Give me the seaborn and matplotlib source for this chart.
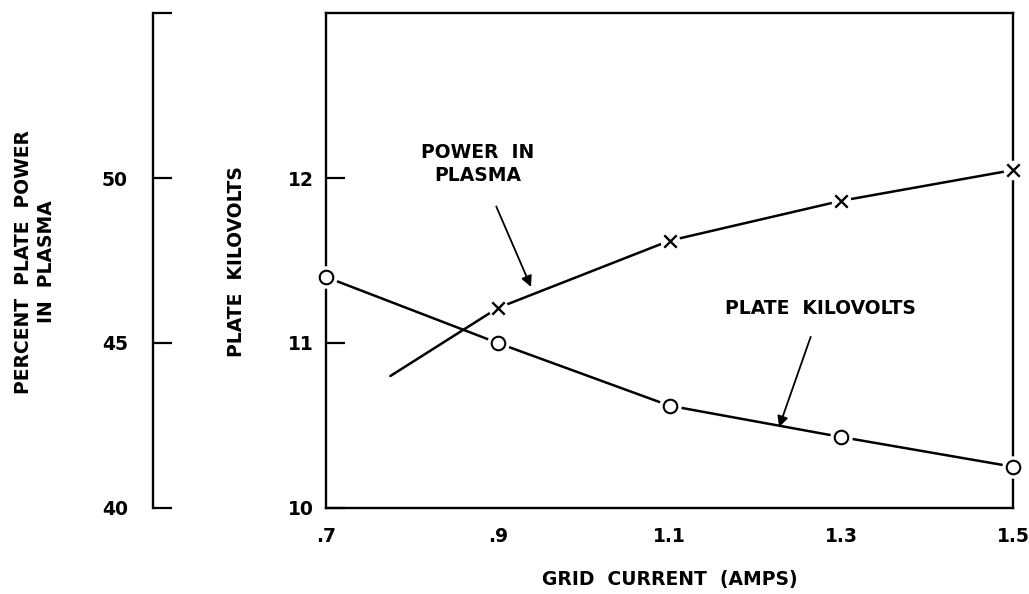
import matplotlib
matplotlib.use("Agg")
import matplotlib.pyplot as plt
import seaborn as sns
import pandas as pd

# ---- data ----
grid_current = [0.7, 0.9, 1.1, 1.3, 1.5]
plate_kv = [11.40, 11.00, 10.62, 10.43, 10.25]
power_current = [0.775, 0.9, 1.1, 1.3, 1.5]
power_pct = [44.0, 46.06, 48.10, 49.31, 50.24]
power_marked = [False, True, True, True, True]

x_ticks = [0.7, 0.9, 1.1, 1.3, 1.5]
x_tick_labels = [".7", ".9", "1.1", "1.3", "1.5"]
kv_ticks = [10, 11, 12]
pct_ticks = [40, 45, 50, 55]
pct_tick_labels = ["40", "45", "50", ""]

sns.set_style("white")
plt.rcParams["font.family"] = ["DejaVu Sans"]
plt.rcParams["font.weight"] = "bold"
plt.rcParams["text.color"] = "black"
plt.rcParams["axes.labelcolor"] = "black"
plt.rcParams["xtick.color"] = "black"
plt.rcParams["ytick.color"] = "black"

FS = 13.5

kv_df = pd.DataFrame({"current": grid_current, "kv": plate_kv})
pw_df = pd.DataFrame({"current": power_current, "pct": power_pct, "marked": power_marked})
pw_marked = pw_df[pw_df["marked"]]

fig = plt.figure(figsize=(10.29, 5.94), dpi=100)
ax = fig.add_axes([0.3168, 0.1448, 0.6677, 0.8333])
axp = ax.twinx()

LW = 1.8
# plate kilovolts
sns.lineplot(data=kv_df, x="current", y="kv", ax=ax, color="black", linewidth=LW, zorder=2)
sns.scatterplot(data=kv_df, x="current", y="kv", ax=ax, color="white", s=260, marker="o",
                linewidth=0, zorder=3, clip_on=False)
sns.scatterplot(data=kv_df, x="current", y="kv", ax=ax, facecolor="white", edgecolor="black",
                s=95, marker="o", linewidth=1.5, zorder=4, clip_on=False)

# power in plasma
sns.lineplot(data=pw_df, x="current", y="pct", ax=axp, color="black", linewidth=LW, zorder=2)
sns.scatterplot(data=pw_marked, x="current", y="pct", ax=axp, color="white", s=200, marker="o",
                linewidth=0, zorder=3, clip_on=False)
sns.scatterplot(data=pw_marked, x="current", y="pct", ax=axp, color="black", s=80, marker="x",
                linewidth=1.7, zorder=4, clip_on=False)

# main axes formatting
ax.set_xlim(0.7, 1.5)
ax.set_ylim(10, 13)
ax.set_xticks(x_ticks)
ax.set_xticklabels(x_tick_labels)
ax.set_yticks(kv_ticks)
ax.set_yticklabels([str(t) for t in kv_ticks])
ax.tick_params(axis="both", direction="in", length=14, width=1.6, labelsize=FS, colors="black")
ax.tick_params(axis="y", pad=9)
ax.tick_params(axis="x", pad=14)
for lab in ax.get_xticklabels() + ax.get_yticklabels():
    lab.set_fontweight("bold")
for s in ["left", "bottom", "right", "top"]:
    ax.spines[s].set_visible(True)
    ax.spines[s].set_linewidth(1.7)
    ax.spines[s].set_color("black")
ax.set_xlabel("GRID  CURRENT  (AMPS)", fontsize=FS, fontweight="bold", labelpad=17, color="black")
ax.set_ylabel("")

# percent axis
axp.set_ylim(40, 55)
axp.set_yticks(pct_ticks)
axp.set_yticklabels(pct_tick_labels)
axp.yaxis.set_ticks_position("left")
axp.yaxis.set_label_position("left")
axp.spines["right"].set_visible(False)
axp.spines["top"].set_visible(False)
axp.spines["bottom"].set_visible(False)
axp.spines["left"].set_visible(True)
axp.spines["left"].set_position(("axes", -0.2518))
axp.spines["left"].set_linewidth(1.7)
axp.spines["left"].set_color("black")
axp.tick_params(axis="y", direction="in", length=14, width=1.6, labelsize=FS, pad=18, colors="black")
for lab in axp.get_yticklabels():
    lab.set_fontweight("bold")
axp.set_ylabel("")

# axis titles
fig.text(35 / 1029, 1 - 262 / 594, "PERCENT  PLATE  POWER\nIN  PLASMA", rotation=90,
         ha="center", va="center", fontsize=FS, fontweight="bold", linespacing=1.3, color="black")
fig.text(236 / 1029, 1 - 262 / 594, "PLATE  KILOVOLTS", rotation=90,
         ha="center", va="center", fontsize=FS, fontweight="bold", color="black")

# annotations
axp.annotate("POWER  IN\nPLASMA", xy=(0.9387, 46.70), xytext=(0.877, 50.42),
             ha="center", va="center", fontsize=FS, fontweight="bold", linespacing=1.3, color="black",
             arrowprops=dict(arrowstyle="-|>", color="black", lw=1.3, mutation_scale=16,
                             shrinkA=14, shrinkB=0))
ax.annotate("PLATE  KILOVOLTS", xy=(1.2275, 10.49), xytext=(1.276, 11.21),
            ha="center", va="center", fontsize=FS, fontweight="bold", color="black",
            arrowprops=dict(arrowstyle="-|>", color="black", lw=1.3, mutation_scale=16,
                            shrinkA=12, shrinkB=0))

fig.savefig("out.png", dpi=100, facecolor="white")
